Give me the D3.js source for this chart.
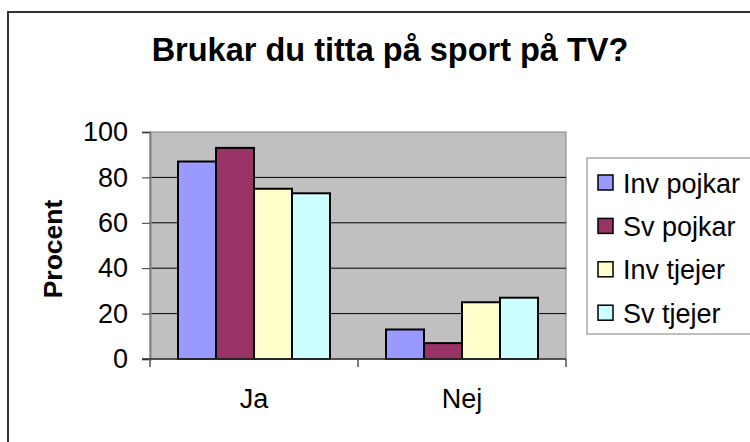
<!DOCTYPE html>
<html>
<head>
<meta charset="utf-8">
<script src="https://cdn.jsdelivr.net/npm/d3@7"></script>
<style>
  body { margin: 0; background: #fff; }
  text { font-family: "Liberation Sans", Arial, sans-serif; fill: #000; }
</style>
</head>
<body>
<svg id="chart" width="750" height="442"></svg>
<script>
var categories = ["Ja", "Nej"];
var seriesNames = ["Inv pojkar", "Sv pojkar", "Inv tjejer", "Sv tjejer"];
var invPojkar = [87, 13];
var svPojkar = [93, 7];
var invTjejer = [75, 25];
var svTjejer = [73, 27];
var yTicks = [0, 20, 40, 60, 80, 100];
var colors = ["#9999ff", "#993366", "#ffffcc", "#ccffff"];

var seriesValues = [invPojkar, svPojkar, invTjejer, svTjejer];

var plot = { left: 150, right: 566, top: 132, bottom: 359 };

var svg = d3.select("#chart");

// outer frame (right and bottom fall outside the picture)
svg.append("rect")
    .attr("x", 8).attr("y", 12)
    .attr("width", 800).attr("height", 500)
    .attr("fill", "#fff")
    .attr("stroke", "#333").attr("stroke-width", 2);

svg.append("text")
    .attr("x", 390).attr("y", 61)
    .attr("text-anchor", "middle")
    .style("font-size", "32.5px").style("font-weight", "bold")
    .text("Brukar du titta på sport på TV?");

var x = d3.scaleBand().domain(categories).range([plot.left, plot.right]);
var xs = d3.scaleBand().domain(d3.range(seriesNames.length))
    .range([0, x.bandwidth()]).paddingInner(0).paddingOuter(0.737);
var y = d3.scaleLinear().domain([0, 100]).range([plot.bottom, plot.top]);

svg.append("rect")
    .attr("x", plot.left).attr("y", plot.top)
    .attr("width", plot.right - plot.left).attr("height", plot.bottom - plot.top)
    .attr("fill", "#c0c0c0")
    .attr("stroke", "#808080").attr("stroke-width", 1);

svg.append("g").selectAll("line")
    .data(yTicks.filter(function(d) { return d > 0 && d < 100; }))
    .join("line")
    .attr("x1", plot.left).attr("x2", plot.right)
    .attr("y1", function(d) { return y(d); }).attr("y2", function(d) { return y(d); })
    .attr("stroke", "#000").attr("stroke-width", 1);

// bars
categories.forEach(function(c, ci) {
    seriesValues.forEach(function(vals, si) {
        svg.append("rect")
            .attr("x", x(c) + xs(si))
            .attr("y", y(vals[ci]))
            .attr("width", xs.bandwidth())
            .attr("height", y(0) - y(vals[ci]))
            .attr("fill", colors[si])
            .attr("stroke", "#000").attr("stroke-width", 2);
    });
});

// y axis
var yAxis = svg.append("g")
    .attr("transform", "translate(" + plot.left + ",0)")
    .call(d3.axisLeft(y).tickValues(yTicks).tickSize(8).tickPadding(14));
yAxis.select(".domain").attr("stroke", "#808080").attr("stroke-width", 2);
yAxis.selectAll(".tick line").attr("stroke", "#333");
yAxis.selectAll(".tick text")
    .style("font-size", "27px").style("font-family", "Liberation Sans, Arial, sans-serif")
    .attr("fill", "#000");

// x axis
var xAxis = svg.append("g")
    .attr("transform", "translate(0," + plot.bottom + ")");
xAxis.append("line")
    .attr("x1", plot.left - 8).attr("x2", plot.right)
    .attr("stroke", "#333").attr("stroke-width", 1.5);
xAxis.selectAll(".tk")
    .data(categories.concat(["end"]))
    .join("line")
    .attr("class", "tk")
    .attr("x1", function(d, i) { return i < categories.length ? x(d) : plot.right; })
    .attr("x2", function(d, i) { return i < categories.length ? x(d) : plot.right; })
    .attr("y1", 0).attr("y2", 8)
    .attr("stroke", "#555").attr("stroke-width", 1.5);
xAxis.selectAll(".lbl")
    .data(categories)
    .join("text")
    .attr("class", "lbl")
    .attr("x", function(d) { return x(d) + x.bandwidth() / 2; })
    .attr("y", 49)
    .attr("text-anchor", "middle")
    .style("font-size", "27px")
    .text(function(d) { return d; });

svg.append("text")
    .attr("transform", "translate(62,249) rotate(-90)")
    .attr("text-anchor", "middle")
    .style("font-size", "26.5px").style("font-weight", "bold")
    .text("Procent");

// legend
var legend = svg.append("g");
legend.append("rect")
    .attr("x", 587).attr("y", 158)
    .attr("width", 200).attr("height", 176)
    .attr("fill", "#fff")
    .attr("stroke", "#808080").attr("stroke-width", 1);
var rows = legend.selectAll(".row")
    .data(seriesNames)
    .join("g")
    .attr("class", "row")
    .attr("transform", function(d, i) { return "translate(598," + (183 + i * 43.4) + ")"; });
rows.append("rect")
    .attr("x", 0).attr("y", -8)
    .attr("width", 15).attr("height", 15)
    .attr("fill", function(d, i) { return colors[i]; })
    .attr("stroke", "#000").attr("stroke-width", 1.5);
rows.append("text")
    .attr("x", 25).attr("y", 9.5)
    .style("font-size", "27px")
    .text(function(d) { return d; });
</script>
</body>
</html>
